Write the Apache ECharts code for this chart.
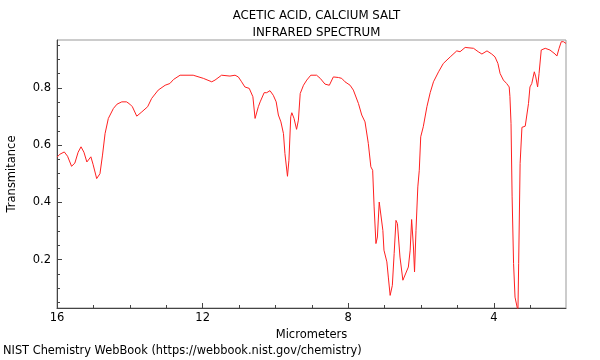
<!DOCTYPE html>
<html>
<head>
<meta charset="utf-8">
<script src="https://cdn.jsdelivr.net/npm/echarts@6/dist/echarts.min.js"></script>
<style>html,body{margin:0;padding:0;background:#fff}#c{width:600px;height:360px}</style>
</head>
<body>
<div id="c"></div>
<script>
const titleLines = ['ACETIC ACID, CALCIUM SALT', 'INFRARED SPECTRUM'];
const xName = 'Micrometers';
const yName = 'Transmitance';
const footer = 'NIST Chemistry WebBook (https://webbook.nist.gov/chemistry)';
const xMajorTicks = [4, 8, 12, 16];
const xMinorTicks = [3, 5, 6, 7, 9, 10, 11, 13, 14, 15];
const yMajorTicks = [0.2, 0.4, 0.6, 0.8];
const yMinorTicks = [0.05, 0.1, 0.15, 0.25, 0.3, 0.35, 0.45, 0.5, 0.55, 0.65, 0.7, 0.75, 0.85, 0.9, 0.95];
const micrometers = [16.00,15.92,15.80,15.71,15.60,15.51,15.42,15.34,15.26,15.18,15.07,15.01,14.91,14.82,14.75,14.68,14.59,14.45,14.35,14.22,14.09,14.00,13.93,13.81,13.67,13.51,13.40,13.22,13.03,12.90,12.80,12.62,12.26,11.98,11.75,11.66,11.48,11.25,11.11,11.02,10.93,10.84,10.72,10.62,10.56,10.51,10.47,10.42,10.38,10.31,10.24,10.15,10.06,9.98,9.92,9.85,9.78,9.74,9.67,9.63,9.58,9.55,9.49,9.42,9.37,9.32,9.23,9.14,9.03,8.87,8.77,8.64,8.52,8.41,8.27,8.18,8.09,7.95,7.86,7.72,7.63,7.54,7.45,7.38,7.33,7.29,7.24,7.20,7.15,7.11,7.05,7.02,6.94,6.90,6.85,6.79,6.74,6.69,6.65,6.58,6.50,6.46,6.35,6.30,6.26,6.21,6.18,6.14,6.09,6.05,6.01,5.94,5.84,5.75,5.66,5.52,5.39,5.20,5.02,4.93,4.79,4.56,4.43,4.33,4.19,4.06,3.97,3.89,3.83,3.74,3.65,3.58,3.56,3.53,3.50,3.46,3.42,3.37,3.34,3.32,3.28,3.23,3.14,3.05,3.01,2.96,2.89,2.85,2.80,2.76,2.70,2.59,2.46,2.32,2.27,2.21,2.15,2.09,2.02];
const transmittance = [0.558,0.568,0.576,0.561,0.526,0.537,0.575,0.594,0.575,0.541,0.559,0.533,0.483,0.500,0.565,0.640,0.693,0.728,0.743,0.751,0.751,0.743,0.734,0.701,0.716,0.734,0.763,0.792,0.809,0.815,0.829,0.844,0.844,0.833,0.821,0.827,0.844,0.841,0.844,0.838,0.821,0.803,0.798,0.769,0.693,0.693,0.734,0.751,0.748,0.783,0.783,0.790,0.774,0.751,0.705,0.681,0.640,0.571,0.491,0.547,0.699,0.713,0.693,0.655,0.687,0.780,0.809,0.827,0.844,0.844,0.833,0.813,0.809,0.838,0.836,0.833,0.821,0.809,0.792,0.745,0.705,0.681,0.606,0.524,0.512,0.384,0.256,0.279,0.401,0.396,0.302,0.233,0.192,0.139,0.075,0.110,0.221,0.337,0.326,0.209,0.128,0.134,0.174,0.233,0.340,0.244,0.157,0.302,0.454,0.512,0.629,0.664,0.734,0.783,0.821,0.856,0.885,0.908,0.929,0.926,0.941,0.938,0.926,0.918,0.929,0.918,0.908,0.885,0.850,0.827,0.815,0.803,0.769,0.676,0.419,0.186,0.069,0.064,0.020,0.187,0.536,0.662,0.666,0.745,0.803,0.815,0.856,0.838,0.803,0.850,0.932,0.938,0.932,0.918,0.911,0.938,0.961,0.961,0.955];

const X_MIN = 2.02, X_MAX = 16, Y_MIN = 0.031, Y_MAX = 0.967;
const FONT = 'DejaVu Sans';
const data = micrometers.map((x, i) => [x, transmittance[i]]);

const chart = echarts.init(document.getElementById('c'), null, {renderer: 'canvas'});
const baseX = {
  type: 'value', inverse: true, min: X_MIN, max: X_MAX, position: 'bottom',
  splitLine: {show: false}
};
const baseY = {
  type: 'value', min: Y_MIN, max: Y_MAX, position: 'left',
  splitLine: {show: false}
};
chart.setOption({
  animation: false,
  title: {
    text: titleLines.join('\n'), left: 311.5, top: 2, textAlign: 'center',
    textStyle: {fontFamily: FONT, fontSize: 11.8, fontWeight: 'normal', color: '#000', lineHeight: 17}
  },
  grid: {left: 57, right: 34, top: 40, bottom: 52, show: true, borderColor: '#999', borderWidth: 1,
    backgroundColor: 'transparent', containLabel: false, outerBoundsMode: 'none'},
  xAxis: [
    Object.assign({}, baseX, {
      name: xName, nameLocation: 'middle', nameGap: 17,
      nameTextStyle: {fontFamily: FONT, fontSize: 11.5, color: '#000'},
      axisLine: {show: true, lineStyle: {color: '#444', width: 1}},
      axisTick: {show: true, inside: true, length: 5, customValues: xMajorTicks, lineStyle: {color: '#444'}},
      axisLabel: {show: true, customValues: xMajorTicks, fontFamily: FONT, fontSize: 11.5, color: '#000', margin: 4}
    }),
    Object.assign({}, baseX, {
      axisLine: {show: false},
      axisTick: {show: true, inside: true, length: 3, customValues: xMinorTicks, lineStyle: {color: '#444'}},
      axisLabel: {show: false}
    })
  ],
  yAxis: [
    Object.assign({}, baseY, {
      name: yName, nameLocation: 'middle', nameGap: 39,
      nameTextStyle: {fontFamily: FONT, fontSize: 11.5, color: '#000'},
      axisLine: {show: true, lineStyle: {color: '#444', width: 1}},
      axisTick: {show: true, inside: true, length: 5, customValues: yMajorTicks, lineStyle: {color: '#444'}},
      axisLabel: {show: true, customValues: yMajorTicks, fontFamily: FONT, fontSize: 11.5, color: '#000', margin: 6,
        formatter: v => v.toFixed(1)}
    }),
    Object.assign({}, baseY, {
      axisLine: {show: false},
      axisTick: {show: true, inside: true, length: 3, customValues: yMinorTicks, lineStyle: {color: '#444'}},
      axisLabel: {show: false}
    })
  ],
  graphic: [{
    type: 'text', left: 3, top: 346,
    style: {text: footer, fontFamily: FONT, fontSize: 11.4, fill: '#000'}
  }],
  series: [{
    type: 'line', xAxisIndex: 0, yAxisIndex: 0, data: data, showSymbol: false, symbol: 'none',
    clip: true, smooth: false,
    lineStyle: {color: '#ff2020', width: 1}
  }]
});
</script>
</body>
</html>
